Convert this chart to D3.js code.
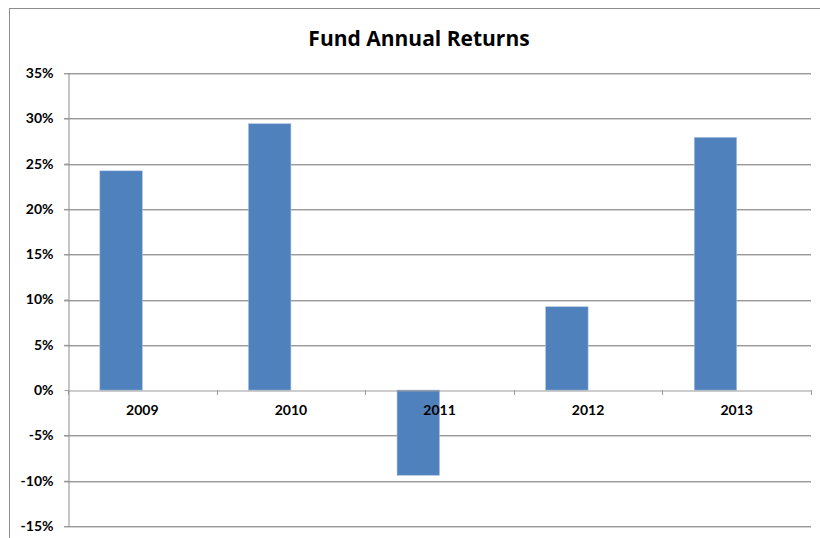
<!DOCTYPE html>
<html>
<head>
<meta charset="utf-8">
<script src="https://cdn.jsdelivr.net/npm/d3@7"></script>
<style>
  html, body { margin: 0; padding: 0; background: #fff; }
  svg { display: block; }
</style>
</head>
<body>
<svg id="chart" width="820" height="538"></svg>
<script>
const title = "Fund Annual Returns";
const categories = ["2009", "2010", "2011", "2012", "2013"];
const seriesNames = ["Fund", "Blank"];
const returns = [24.2, 29.4, -9.4, 9.2, 27.9];
const yTicks = [-15, -10, -5, 0, 5, 10, 15, 20, 25, 30, 35];

(function () {
const svg = d3.select("#chart");
const W = 820, H = 538;
const pLeft = 68, pRight = 811, pTop = 73, pBottom = 526;

svg.append("rect").attr("x", 0).attr("y", 0).attr("width", W).attr("height", H).attr("fill", "#fff");
// outer chart border
svg.append("rect").attr("x", 9.5).attr("y", 8.5).attr("width", W + 10).attr("height", H + 10)
  .attr("fill", "none").attr("stroke", "#8c8c8c").attr("stroke-width", 1);

const x = d3.scaleBand().domain(categories).range([pLeft, pRight]).paddingInner(0).paddingOuter(0);
const xs = d3.scaleBand().domain(seriesNames).range([0, x.bandwidth()]).paddingInner(0).paddingOuter(0.75);
const y = d3.scaleLinear().domain([-15, 35]).range([pBottom, pTop]);

// gridlines
const grid = svg.append("g");
yTicks.forEach(t => {
  if (t === 0) return;
  grid.append("line").attr("x1", pLeft - 4).attr("x2", pRight).attr("y1", Math.round(y(t)) + 0.5).attr("y2", Math.round(y(t)) + 0.5)
    .attr("stroke", "#9a9a9a").attr("stroke-width", 1);
  grid.append("line").attr("x1", pLeft - 4).attr("x2", pRight).attr("y1", Math.round(y(t)) + 1.5).attr("y2", Math.round(y(t)) + 1.5)
    .attr("stroke", "#d4d4d4").attr("stroke-width", 1);
});

// bars
svg.append("g").selectAll("rect").data(returns).join("rect")
  .attr("x", (d, i) => x(categories[i]) + xs("Fund"))
  .attr("width", xs.bandwidth())
  .attr("y", d => y(Math.max(0, d)))
  .attr("height", d => Math.abs(y(d) - y(0)))
  .attr("fill", "#4f81bd")
  .attr("stroke", "#a8c0e0").attr("stroke-width", 0.6);

const labelFont = "Lato, 'Open Sans', sans-serif";

// y axis
const yAxis = svg.append("g").attr("transform", `translate(${pLeft + 0.5},0)`)
  .call(d3.axisLeft(y).tickValues(yTicks).tickSize(4).tickPadding(11).tickFormat(d => d + "%"));
yAxis.select(".domain").attr("stroke", "#8c8c8c");
yAxis.selectAll(".tick line").attr("stroke", "#9a9a9a");
yAxis.selectAll(".tick text").style("font-size", "14px").style("font-weight", "bold").attr("fill", "#000")
  .style("font-family", labelFont);

// x axis at zero
const xAxis = svg.append("g").attr("transform", `translate(0,${Math.round(y(0)) + 0.5})`)
  .call(d3.axisBottom(x).tickSize(0).tickPadding(15));
xAxis.select(".domain").attr("stroke", "#9a9a9a");
xAxis.selectAll(".tick text").style("font-size", "14px").style("font-weight", "bold").attr("fill", "#000")
  .style("font-family", labelFont);
// boundary ticks between categories
const bounds = categories.map(c => x(c)).concat([x(categories[categories.length - 1]) + x.bandwidth()]);
svg.append("g").selectAll("line").data(bounds).join("line")
  .attr("x1", d => Math.round(d) + 0.5).attr("x2", d => Math.round(d) + 0.5)
  .attr("y1", Math.round(y(0))).attr("y2", Math.round(y(0)) + 5)
  .attr("stroke", "#9a9a9a");

// title
svg.append("text").attr("x", 419).attr("y", 46).attr("text-anchor", "middle")
  .style("font-family", "'Open Sans', Lato, sans-serif")
  .style("font-size", "21px").style("font-weight", "bold").attr("fill", "#000").text(title);
})();
</script>
</body>
</html>
